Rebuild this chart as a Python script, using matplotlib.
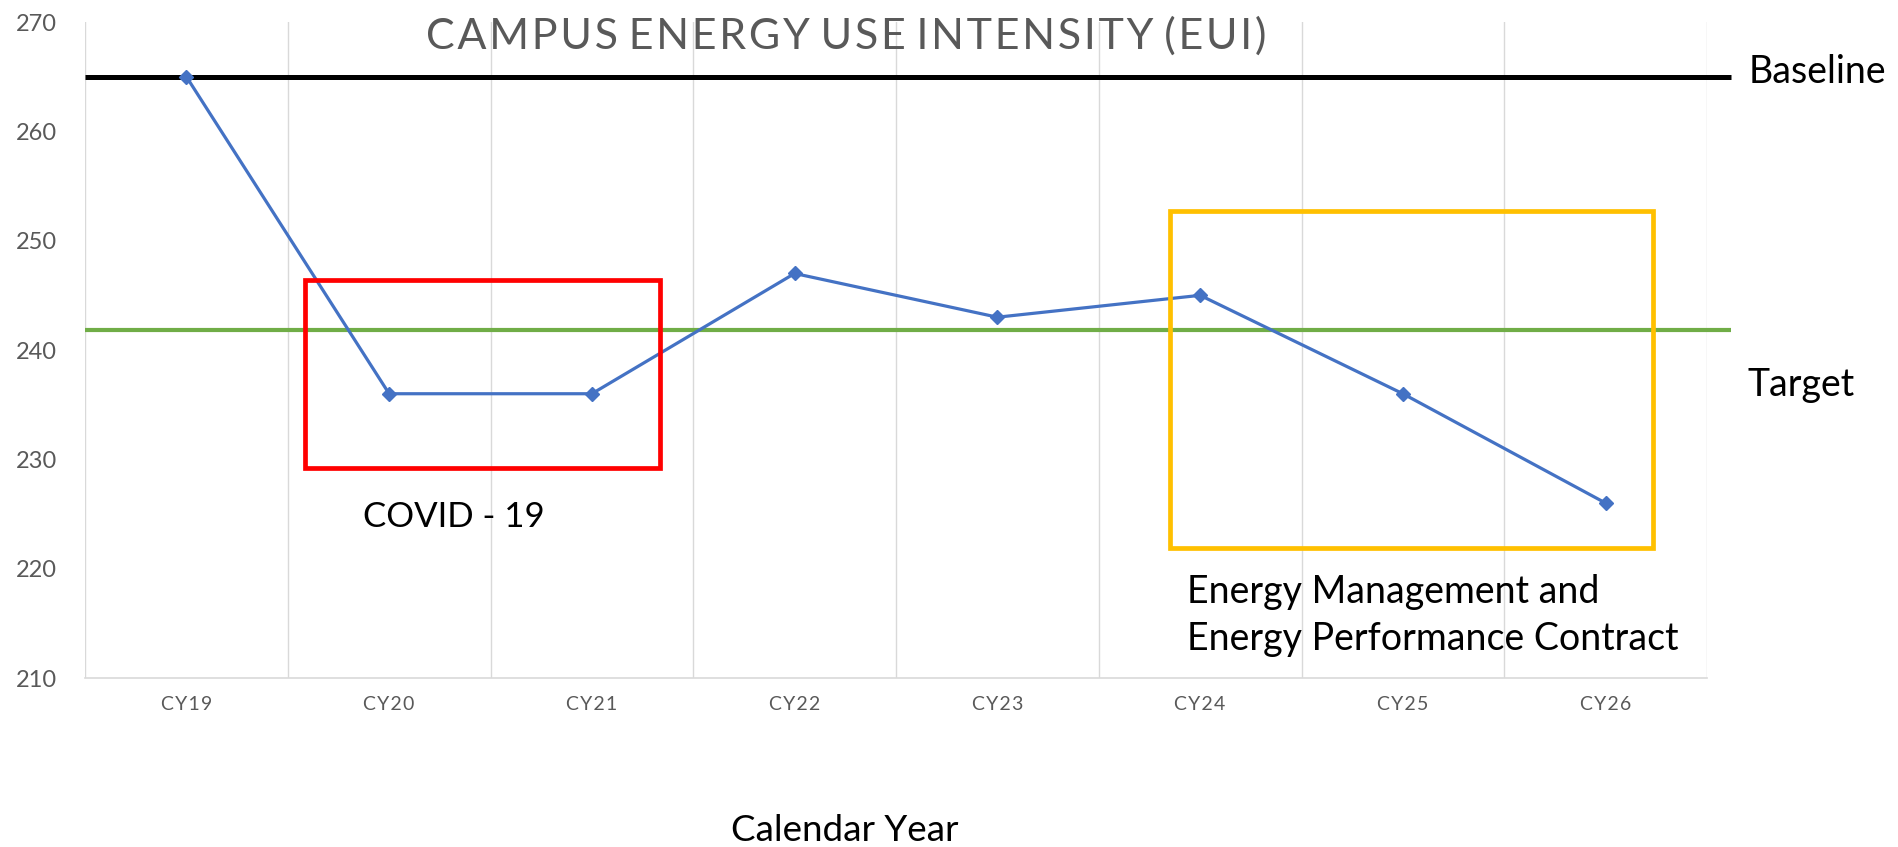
import matplotlib
matplotlib.use("Agg")
import matplotlib.pyplot as plt
from matplotlib.patches import Rectangle

categories = ["CY19", "CY20", "CY21", "CY22", "CY23", "CY24", "CY25", "CY26"]
eui = [265, 236, 236, 247, 243, 245, 236, 226]
baseline_value = 265
target_value = 241.8
yticks = [210, 220, 230, 240, 250, 260, 270]

W, H = 1898, 847
fig = plt.figure(figsize=(W / 100, H / 100), dpi=100)
ax = fig.add_axes([85 / W, 1 - 678 / H, (1707 - 85) / W, (678 - 22) / H])

FONT = ["Lato", "DejaVu Sans"]
GRAY = "#595959"

x = list(range(len(categories)))
ax.set_xlim(-0.5, len(categories) - 0.5)
ax.set_ylim(210, 270)

# vertical gridlines at category boundaries
for b in [i - 0.5 for i in range(len(categories) + 1)]:
    ax.axvline(b, color="#D9D9D9", lw=1.0, zorder=0)

# baseline and target lines extend slightly past the plot
xr = len(categories) - 0.5 + 0.12
ax.plot([-0.5, xr], [baseline_value] * 2, color="black", lw=3.6, clip_on=False, zorder=2,
        solid_capstyle="butt")
ax.plot([-0.5, xr], [target_value] * 2, color="#70AD47", lw=3.0, clip_on=False, zorder=2,
        solid_capstyle="butt")

ax.plot(x, eui, color="#4472C4", lw=2.3, marker="D", ms=7.5, zorder=4)

# highlight boxes
ax.add_patch(Rectangle((0.587, 229.2), 2.336 - 0.587, 246.4 - 229.2, fill=False,
                       edgecolor="#FF0000", lw=3.4, zorder=5))
ax.add_patch(Rectangle((4.853, 221.85), 7.233 - 4.853, 252.7 - 221.85, fill=False,
                       edgecolor="#FFC000", lw=3.4, zorder=5))

spaced = ["\u200a".join(c) for c in categories]
ax.set_xticks(x)
ax.set_xticklabels(spaced, fontfamily=FONT, fontsize=14, color=GRAY)
ax.set_yticks(yticks)
ax.set_yticklabels([str(v) for v in yticks], fontfamily=FONT, fontsize=17, color=GRAY)
ax.tick_params(axis="both", length=0)
ax.tick_params(axis="x", pad=13)
ax.tick_params(axis="y", pad=20)
for s in ["top", "right", "left"]:
    ax.spines[s].set_visible(False)
ax.spines["bottom"].set_color("#D9D9D9")
ax.spines["bottom"].set_linewidth(1.2)

def ft(px, py, s, **kw):
    fig.text(px / W, 1 - py / H, s, fontfamily=FONT, **kw)

title = "CAMPUS ENERGY USE INTENSITY (EUI)"
title_sp = "\u200a".join(title).replace("\u200a \u200a", "\u2005")
ft(846, 36, title_sp, ha="center", va="center", fontsize=31, color=GRAY)
ft(1749, 72, "Baseline", ha="left", va="center", fontsize=27, color="black")
ft(1747, 385, "Target", ha="left", va="center", fontsize=27, color="black")
ft(363, 517, "COVID - 19", ha="left", va="center", fontsize=25, color="black")
ft(1187, 592, "Energy Management and", ha="left", va="center", fontsize=27, color="black")
ft(1187, 639, "Energy Performance Contract", ha="left", va="center", fontsize=27, color="black")
ft(845, 830, "Calendar Year", ha="center", va="center", fontsize=26.5, color="black")

fig.savefig("out.png", dpi=100)
